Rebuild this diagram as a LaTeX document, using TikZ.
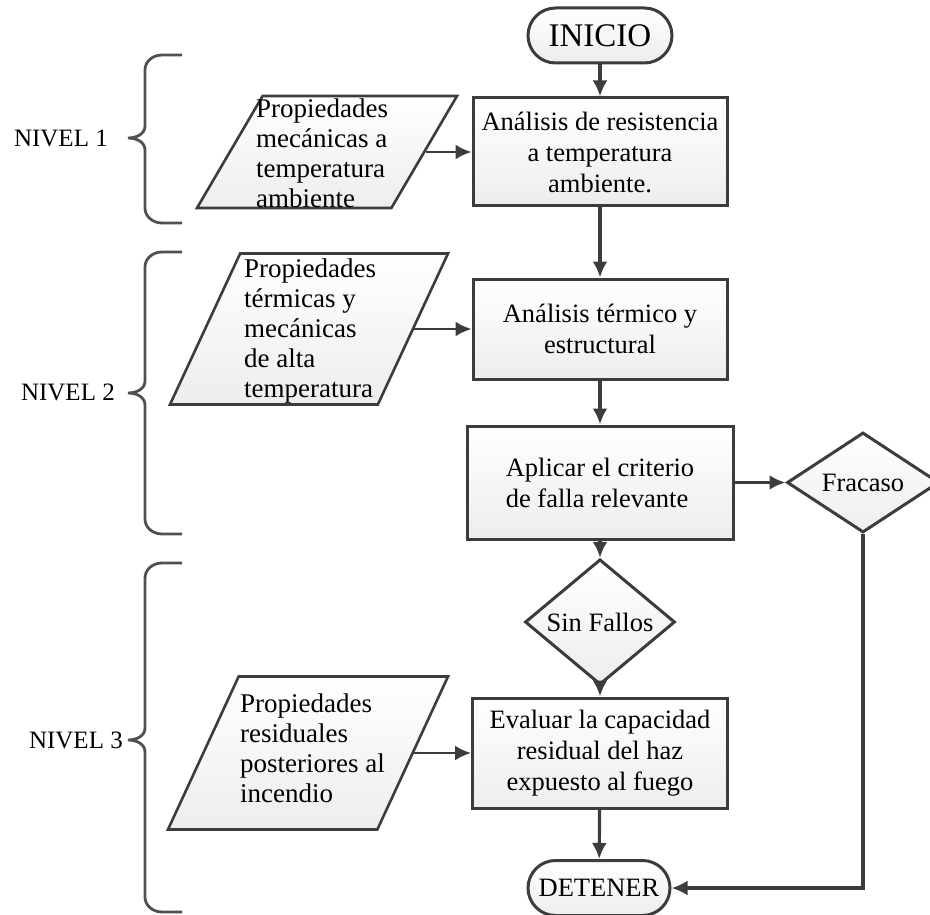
\documentclass[tikz,border=0pt]{standalone}
\usepackage{fontspec}
\setmainfont{Liberation Serif}
\usepackage{tikz}
\usetikzlibrary{shapes.geometric}
\usetikzlibrary{shapes.misc}
\usetikzlibrary{arrows.meta}
\tikzset{>={Latex[length=16pt,width=15pt]}}
\definecolor{linea}{HTML}{3C3C3C}
\definecolor{llavegris}{HTML}{505050}

\tikzset{
  texto/.style={font=\fontsize{26.5}{31}\selectfont, text=black},
  relleno/.style={draw=linea, line width=3pt, top color=white, bottom color=black!7},
  caja/.style={texto, relleno, rectangle, minimum width=254pt, inner sep=0pt, align=center},
  para/.style={relleno, line width=2.6pt, trapezium, trapezium left angle=63,
    trapezium right angle=117, trapezium stretches=true, inner sep=1pt},
  partexto/.style={font=\fontsize{27}{30}\selectfont, align=left, inner sep=0pt, anchor=north west},
  rombo/.style={texto, relleno, diamond, inner sep=0pt},
  terminal/.style={texto, relleno, rounded rectangle, inner sep=0pt, minimum height=55pt},
  flecha/.style={->, draw=linea, line width=3.2pt},
  nivel/.style={font=\fontsize{25}{30}\selectfont, inner sep=0pt, anchor=east},
  llave/.style={draw=llavegris, line width=2.8pt}
}

% llave: #1 arriba, #2 punta, #3 abajo
\newcommand{\llave}[3]{%
  \draw[llave] (182,#1) -- (162,#1) to[out=180,in=90] (145,#1+15) -- (145,#2-12)
    to[out=-90,in=0] (128,#2) to[out=0,in=90] (145,#2+12) -- (145,#3-15)
    to[out=-90,in=180] (162,#3) -- (182,#3);}

\begin{document}
\begin{tikzpicture}[x=1pt,y=-1pt]
\useasboundingbox (0,0) rectangle (930,915);

  % columna central
  \node[terminal, font=\fontsize{33}{36}\selectfont, minimum width=144pt] (ini) at (600,35.5) {INICIO};
  \node[caja, minimum height=108pt] (b1) at (600,152) {Análisis de resistencia\\a temperatura\\ambiente.};
  \node[caja, minimum height=100pt] (b2) at (600,329) {Análisis térmico y\\estructural};
  \node[caja, minimum width=266pt, minimum height=113pt, align=left] (b3) at (600,482.5) {Aplicar el criterio\\de falla relevante};
  \node[rombo, minimum width=150pt, minimum height=89pt] (sf) at (600,622) {Sin Fallos};
  \node[caja, minimum width=255pt, minimum height=110pt] (b4) at (600,753) {Evaluar la capacidad\\residual del haz\\expuesto al fuego};
  \node[terminal, minimum width=142pt] (det) at (599,888) {DETENER};
  \node[rombo, minimum width=152pt, minimum height=92pt] (fr) at (863,482.5) {Fracaso};

  % entradas
  \node[para, minimum width=260pt, minimum height=112pt] (ent1) at (327,152) {};
  \node[partexto] (ent1t) at (256,99) {Propiedades\\mecánicas a\\temperatura\\ambiente};
  \node[para, minimum width=278pt, minimum height=151pt] (ent2) at (309,329) {};
  \node[partexto] (ent2t) at (244,259) {Propiedades\\térmicas y\\mecánicas\\de alta\\temperatura};
  \node[para, minimum width=280pt, minimum height=153pt] (ent3) at (308,753) {};
  \node[partexto] (ent3t) at (240,694) {Propiedades\\residuales\\posteriores al\\incendio};

  % flechas
  \draw[flecha] (ini) -- (b1);
  \draw[flecha] (b1) -- (b2);
  \draw[flecha] (b2) -- (b3);
  \draw[flecha] (b3) -- (sf);
  \draw[flecha] (sf) -- (b4);
  \draw[flecha] (b4) -- (det);
  \draw[flecha] (b3) -- (fr);
  \draw[flecha] (fr.south) |- (det.east);
  \draw[flecha, line width=2.4pt] (ent1.east) -- (b1.west);
  \draw[flecha, line width=2.4pt] (ent2.east) -- (b2.west);
  \draw[flecha, line width=2.4pt] (ent3.east) -- (b4.west);

  % niveles
  \node[nivel] (niv1) at (108,138) {NIVEL 1};
  \node[nivel] (niv2) at (115,392) {NIVEL 2};
  \node[nivel] (niv3) at (123,740) {NIVEL 3};
  \llave{55}{138}{223}
  \llave{252}{393}{534}
  \llave{563}{740}{912}
\end{tikzpicture}
\end{document}
